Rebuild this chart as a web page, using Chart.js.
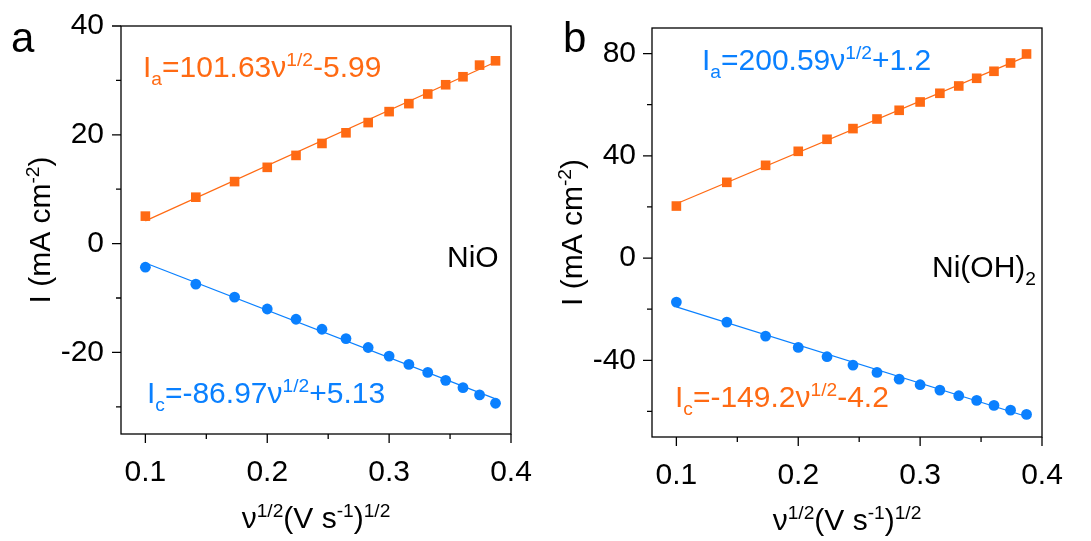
<!DOCTYPE html>
<html>
<head>
<meta charset="utf-8">
<script src="https://cdn.jsdelivr.net/npm/chart.js@4.4.1/dist/chart.umd.min.js"></script>
<style>
  html, body { margin: 0; padding: 0; background: #fff; }
  #wrap { position: relative; width: 1091px; height: 541px; overflow: hidden; }
  #wrap canvas { position: absolute; top: 0; }
</style>
</head>
<body>
<div id="wrap">
  <canvas id="panelA" width="545" height="541" style="left:0"></canvas>
  <canvas id="panelB" width="546" height="541" style="left:545px"></canvas>
</div>
<script>
// Square root of scan rate, (V s^-1)^1/2
const sqrtScanRate = [0.1, 0.1414, 0.1732, 0.2, 0.2236, 0.2449, 0.2646, 0.2828, 0.3, 0.3162, 0.3317, 0.3464, 0.3606, 0.3742, 0.3873];

// NiO peak currents (mA cm^-2)
const nioAnodic   = [5.05, 8.53, 11.40, 14.02, 16.21, 18.41, 20.37, 22.25, 24.26, 25.73, 27.50, 29.20, 30.67, 32.81, 33.60];
const nioCathodic = [-4.34, -7.45, -9.83, -12.02, -13.91, -15.74, -17.46, -19.10, -20.68, -22.21, -23.68, -25.14, -26.48, -27.81, -29.35];

// Ni(OH)2 peak currents (mA cm^-2)
const nihAnodic   = [20.35, 29.63, 36.28, 41.76, 46.46, 50.65, 54.40, 57.81, 61.06, 64.46, 67.32, 70.33, 73.07, 76.32, 79.84];
const nihCathodic = [-17.22, -25.05, -30.53, -34.95, -38.59, -41.88, -44.74, -47.36, -49.55, -51.66, -53.85, -55.69, -57.65, -59.49, -61.17];

// Linear fits: [slope, intercept]
const nioFitAnodic   = [101.63, -5.99];
const nioFitCathodic = [-86.97, 5.13];
const nihFitAnodic   = [200.59, 1.2];
const nihFitCathodic = [-149.2, -4.2];

// Axis ticks
const xMajorTicks = [0.1, 0.2, 0.3, 0.4];
const xMinorTicks = [0.15, 0.25, 0.35];
const nioYMajor = [-20, 0, 20, 40];
const nioYMinor = [-30, -10, 10, 30];
const nihYMajor = [-40, 0, 40, 80];
const nihYMinor = [-60, -20, 20, 60];

const ORANGE = '#ff6a13';
const BLUE = '#0a80ff';
const FONT = '"Liberation Sans", Arial, Helvetica, sans-serif';

function signed(v) { return (v < 0 ? '-' : '+') + Math.abs(v); }

function equationSegments(sub, fit) {
  return [['I', 0], [sub, -1], ['=' + fit[0] + '\u03bd', 0], ['1/2', 1], [signed(fit[1]), 0]];
}

// Draw a run of text with superscript (1) / subscript (-1) parts
function drawRich(ctx, segs, x, y, size, color, align) {
  const small = size * 0.64;
  let total = 0;
  const widths = segs.map(s => {
    ctx.font = (s[1] ? small : size) + 'px ' + FONT;
    const w = ctx.measureText(s[0]).width;
    total += w;
    return w;
  });
  let cx = align === 'center' ? x - total / 2 : (align === 'right' ? x - total : x);
  ctx.fillStyle = color;
  ctx.textAlign = 'left';
  ctx.textBaseline = 'alphabetic';
  segs.forEach((s, i) => {
    ctx.font = (s[1] ? small : size) + 'px ' + FONT;
    let dy = 0;
    if (s[1] === 1) dy = -size * 0.37;
    if (s[1] === -1) dy = size * 0.27;
    ctx.fillText(s[0], cx, y + dy);
    cx += widths[i];
  });
}

function fitLine(fit) {
  const x0 = sqrtScanRate[0], x1 = sqrtScanRate[sqrtScanRate.length - 1];
  return [{x: x0, y: fit[0] * x0 + fit[1]}, {x: x1, y: fit[0] * x1 + fit[1]}];
}

function points(ys) { return sqrtScanRate.map((x, i) => ({x: x, y: ys[i]})); }

function makePanel(id, cfg) {
  const framePlugin = {
    id: 'frameAndText',
    afterDraw(chart) {
      const ctx = chart.ctx;
      const a = chart.chartArea;
      const xs = chart.scales.x, ys = chart.scales.y;
      ctx.save();
      ctx.strokeStyle = '#000';
      ctx.lineWidth = 1.3;
      ctx.strokeRect(a.left, a.top, a.right - a.left, a.bottom - a.top);
      ctx.beginPath();
      const tick = (vals, len, axis) => vals.forEach(v => {
        if (axis === 'x') {
          const px = xs.getPixelForValue(v);
          ctx.moveTo(px, a.bottom); ctx.lineTo(px, a.bottom + len);
        } else {
          const py = ys.getPixelForValue(v);
          ctx.moveTo(a.left, py); ctx.lineTo(a.left - len, py);
        }
      });
      tick(xMajorTicks, 9, 'x');
      tick(xMinorTicks, 5, 'x');
      tick(cfg.yMajor, 9, 'y');
      tick(cfg.yMinor, 5, 'y');
      ctx.stroke();

      // panel letter
      ctx.font = '42px ' + FONT;
      ctx.fillStyle = '#000';
      ctx.textAlign = 'left';
      ctx.textBaseline = 'alphabetic';
      ctx.fillText(cfg.letter, cfg.letterPos[0], cfg.letterPos[1]);

      // axis titles
      drawRich(ctx, [['\u03bd', 0], ['1/2', 1], ['(V s', 0], ['-1', 1], [')', 0], ['1/2', 1]],
        (a.left + a.right) / 2, cfg.xTitleY, 30, '#000', 'center');
      ctx.save();
      ctx.translate(cfg.yTitleX, (a.top + a.bottom) / 2);
      ctx.rotate(-Math.PI / 2);
      drawRich(ctx, [['I (mA cm', 0], ['-2', 1], [')', 0]], 0, 0, 30, '#000', 'center');
      ctx.restore();

      // equations and material labels
      cfg.texts.forEach(t => drawRich(ctx, t.segs, t.x, t.y, 30, t.color, 'left'));
      ctx.restore();
    }
  };

  return new Chart(document.getElementById(id), {
    type: 'scatter',
    data: {
      datasets: [
        { data: points(cfg.anodic), pointStyle: 'rect', pointRadius: 6.8, pointBorderWidth: 0,
          backgroundColor: ORANGE, borderColor: ORANGE, order: 1 },
        { data: points(cfg.cathodic), pointStyle: 'circle', pointRadius: 5.4, pointBorderWidth: 0,
          backgroundColor: BLUE, borderColor: BLUE, order: 2 },
        { type: 'line', data: fitLine(cfg.fitA), borderColor: ORANGE, borderWidth: 1.2,
          pointRadius: 0, fill: false, order: 3 },
        { type: 'line', data: fitLine(cfg.fitC), borderColor: BLUE, borderWidth: 1.2,
          pointRadius: 0, fill: false, order: 4 }
      ]
    },
    options: {
      responsive: false,
      animation: false,
      layout: { padding: cfg.padding },
      plugins: { legend: { display: false }, tooltip: { enabled: false } },
      scales: {
        x: {
          type: 'linear', min: 0.08, max: 0.4,
          grid: { display: false, drawTicks: true, tickLength: 21 }, border: { display: false },
          afterBuildTicks: s => { s.ticks = xMajorTicks.map(v => ({value: v})); },
          afterFit: s => { s.height = 60; },
          ticks: { color: '#000', font: { family: FONT, size: 30 }, padding: 0,
                   maxRotation: 0, callback: v => String(v) }
        },
        y: {
          type: 'linear', min: cfg.yMin, max: cfg.yMax,
          grid: { display: false, drawTicks: true, tickLength: cfg.yPad }, border: { display: false },
          afterBuildTicks: s => { s.ticks = cfg.yMajor.map(v => ({value: v})); },
          afterFit: s => { s.width = cfg.yWidth; },
          ticks: { color: '#000', font: { family: FONT, size: 30 }, padding: 0,
                   callback: v => String(v) }
        }
      }
    },
    plugins: [framePlugin]
  });
}

makePanel('panelA', {
  letter: 'a', letterPos: [11, 52],
  anodic: nioAnodic, cathodic: nioCathodic,
  fitA: nioFitAnodic, fitC: nioFitCathodic,
  yMin: -35, yMax: 40, yMajor: nioYMajor, yMinor: nioYMinor,
  yWidth: 121, yPad: 17, padding: { left: 0, top: 26, right: 34, bottom: 47 },
  xTitleY: 528, yTitleX: 50,
  texts: [
    { segs: equationSegments('a', nioFitAnodic), x: 143, y: 77, color: ORANGE },
    { segs: equationSegments('c', nioFitCathodic), x: 147, y: 403, color: BLUE },
    { segs: [['NiO', 0]], x: 447, y: 267, color: '#000' }
  ]
});

makePanel('panelB', {
  letter: 'b', letterPos: [18, 52],
  anodic: nihAnodic, cathodic: nihCathodic,
  fitA: nihFitAnodic, fitC: nihFitCathodic,
  yMin: -70, yMax: 90, yMajor: nihYMajor, yMinor: nihYMinor,
  yWidth: 107, yPad: 16, padding: { left: 0, top: 28, right: 49, bottom: 44 },
  xTitleY: 530, yTitleX: 37,
  texts: [
    { segs: equationSegments('a', nihFitAnodic), x: 157, y: 70, color: BLUE },
    { segs: equationSegments('c', nihFitCathodic), x: 130, y: 407, color: ORANGE },
    { segs: [['Ni(OH)', 0], ['2', -1]], x: 387, y: 277, color: '#000' }
  ]
});
</script>
</body>
</html>
